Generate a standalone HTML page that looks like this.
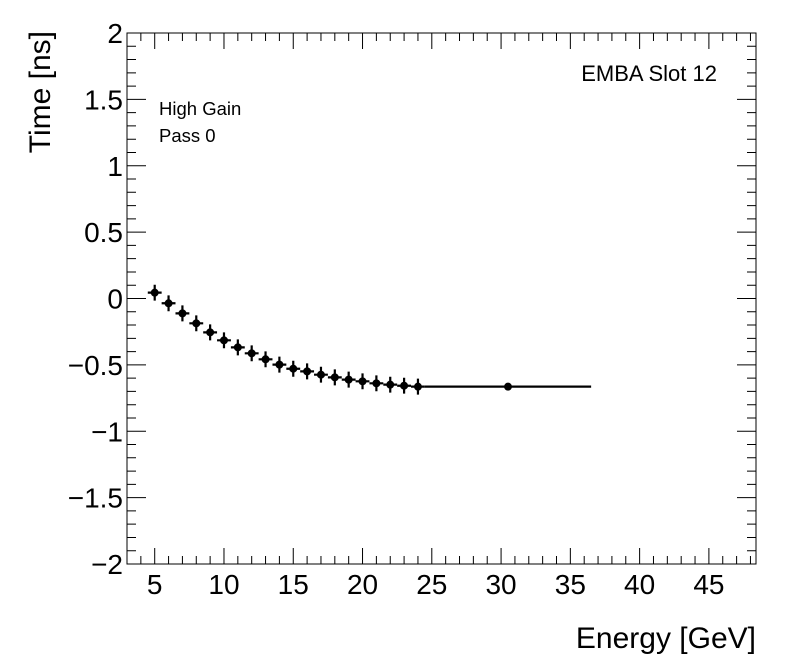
<!DOCTYPE html>
<html><head><meta charset="utf-8"><style>
html,body{margin:0;padding:0;background:#fff;}
svg{display:block;font-family:"Liberation Sans",Arial,sans-serif;}
</style></head><body>
<svg id="chart" width="796" height="672" viewBox="0 0 796 672">
<rect x="0" y="0" width="796" height="672" fill="#fff"/>
<g id="axes"></g>
<g id="data"></g>
<text x="756" y="648" text-anchor="end" font-size="30">Energy [GeV]</text>
<text transform="translate(50,31) rotate(-90)" text-anchor="end" font-size="30">Time [ns]</text>
<text x="717" y="81" text-anchor="end" font-size="22">EMBA Slot 12</text>
<text x="159" y="115" font-size="18.5">High Gain</text>
<text x="159" y="142" font-size="18.5">Pass 0</text>
</svg>
<script>
const energies = [5,6,7,8,9,10,11,12,13,14,15,16,17,18,19,20,21,22,23,24,30.5];
const times = [0.044,-0.036,-0.112,-0.187,-0.255,-0.315,-0.368,-0.413,-0.458,-0.498,-0.529,-0.549,-0.574,-0.594,-0.611,-0.624,-0.639,-0.649,-0.657,-0.664,-0.664];
const xErrors = [0.5,0.5,0.5,0.5,0.5,0.5,0.5,0.5,0.5,0.5,0.5,0.5,0.5,0.5,0.5,0.5,0.5,0.5,0.5,0.5,6];
const yErrors = [0.06,0.06,0.06,0.06,0.06,0.06,0.06,0.06,0.06,0.06,0.06,0.06,0.06,0.06,0.06,0.06,0.06,0.06,0.06,0.06,0.01];
const xTickLabels = [5,10,15,20,25,30,35,40,45];
const yTickLabels = ["\u22122","\u22121.5","\u22121","\u22120.5","0","0.5","1","1.5","2"];
const yTickValues = [-2,-1.5,-1,-0.5,0,0.5,1,1.5,2];

const X0=127,X1=756,Y0=33,Y1=564, XMIN=3,XMAX=48.4,YMIN=-2,YMAX=2;
const sx=v=>X0+(v-XMIN)/(XMAX-XMIN)*(X1-X0);
const sy=v=>Y1-(v-YMIN)/(YMAX-YMIN)*(Y1-Y0);
const NS="http://www.w3.org/2000/svg";
const axes=document.getElementById('axes'), data=document.getElementById('data');
function mk(tag,attrs,parent){const e=document.createElementNS(NS,tag);for(const k in attrs)e.setAttribute(k,attrs[k]);parent.appendChild(e);return e;}

const frame=mk('rect',{x:X0,y:Y0,width:X1-X0,height:Y1-Y0,fill:'none',stroke:'#000','stroke-width':1},axes);



let d='';
for(let v=4;v<=48;v++){const x=sx(v);const L=(v%5===0)?16:8;d+=`M${x},${Y1}V${Y1-L}M${x},${Y0}V${Y0+L}`;}
for(let i=0;i<=40;i++){const v=YMIN+i*0.1;const y=sy(v);const L=(i%5===0)?19:9;d+=`M${X0},${y}H${X0+L}M${X1},${y}H${X1-L}`;}
const ticks=mk('path',{d:d,stroke:'#000','stroke-width':1,fill:'none'},axes);



xTickLabels.forEach(v=>{
  const t=mk('text',{x:sx(v),y:594,'text-anchor':'middle','font-size':28},axes);
  t.textContent=v;
  
  
});
yTickValues.forEach((v,i)=>{
  const t=mk('text',{x:123,y:sy(v)+10,'text-anchor':'end','font-size':28},axes);
  t.textContent=yTickLabels[i];
  
  
});

energies.forEach((e,i)=>{
  const g=mk('g',{},data);
  
  
  const x=sx(e),y=sy(times[i]);
  mk('path',{d:`M${sx(e-xErrors[i])},${y}H${sx(e+xErrors[i])}M${x},${sy(times[i]+yErrors[i])}V${sy(times[i]-yErrors[i])}`,stroke:'#000','stroke-width':2.2},g);
  mk('circle',{cx:x,cy:y,r:4,fill:'#000'},g);
});
</script>
</body></html>
